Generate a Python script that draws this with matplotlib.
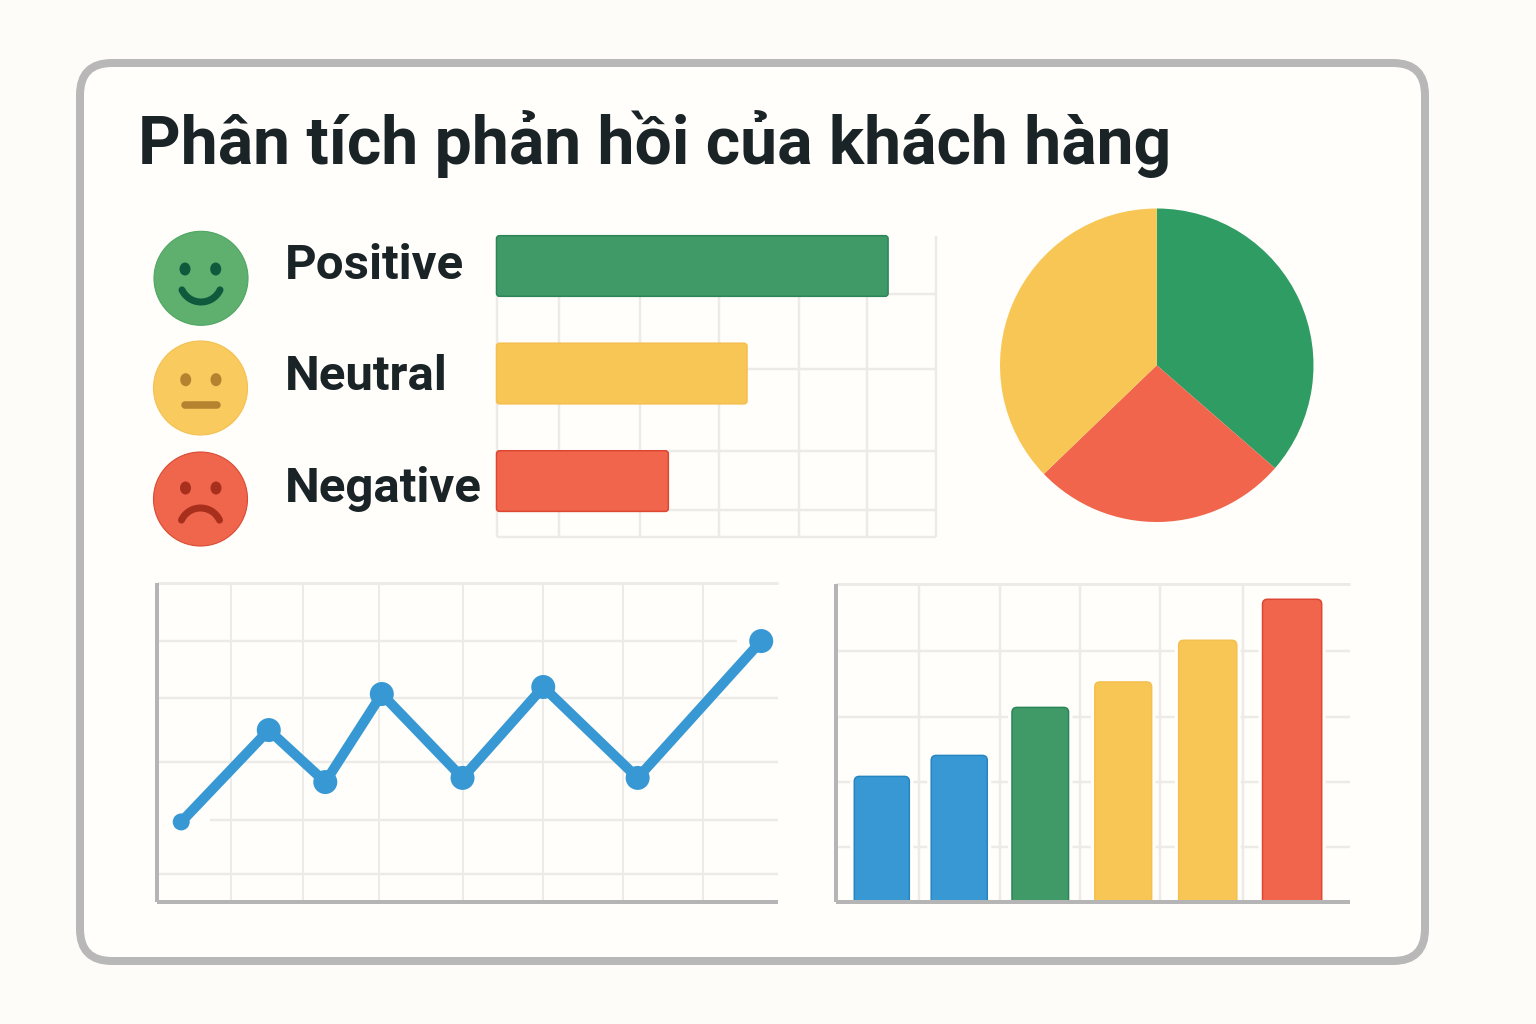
"""Customer feedback dashboard card: faces, bars, pie, trend line and column chart."""

import matplotlib
matplotlib.use("Agg")
import matplotlib.patheffects as pe
import matplotlib.pyplot as plt
from matplotlib.patches import Arc, Circle, Ellipse, FancyBboxPatch

WIDTH, HEIGHT = 1536, 1024
PX = 72 / 100  # points per pixel at dpi=100

TITLE = "Phân tích phản hồi của khách hàng"
SENTIMENTS = ["Positive", "Neutral", "Negative"]

# horizontal bars, share of a 0-100 axis
sentiment_values = [89.1, 57.0, 39.1]
# pie shares
pie_green, pie_red, pie_yellow = 36.4, 26.4, 37.2
pie_values = [pie_green, pie_red, pie_yellow]
# trend line
line_x = [3.9, 18.0, 27.1, 36.2, 49.2, 62.2, 77.4, 97.3]
line_y = [25.1, 53.9, 37.6, 65.2, 38.9, 67.4, 38.9, 81.8]
# column chart
column_values = [39.5, 46.1, 61.2, 69.2, 82.3, 95.2]

BG = "#fdfcf8"
CARD = "#fffefb"
CARD_EDGE = "#b9b8b8"
INK = "#1a2326"
GRID = "#ecebe8"
AXIS = "#b6b5b5"
GREEN = "#3f9a68"
GREEN_EDGE = "#2c8558"
PIE_GREEN = "#2f9c63"
YELLOW = "#f8c655"
YELLOW_EDGE = "#f4bf4f"
RED = "#f1654c"
RED_EDGE = "#dc4632"
BLUE = "#3798d4"
BLUE_EDGE = "#2585c0"

plt.rcParams["font.family"] = ["Roboto", "Inter", "DejaVu Sans"]


def px_axes(left, top, right, bottom):
    ax = fig.add_axes([left / WIDTH, 1 - bottom / HEIGHT,
                       (right - left) / WIDTH, (bottom - top) / HEIGHT])
    ax.set_facecolor("none")
    ax.tick_params(length=0, labelbottom=False, labelleft=False)
    return ax


def style_spines(ax, left, bottom, top, right, lw_left=3, lw_bottom=3):
    for name, color, lw in [("left", left, lw_left), ("bottom", bottom, lw_bottom),
                            ("top", top, 3), ("right", right, 2.5)]:
        if color is None:
            ax.spines[name].set_visible(False)
        else:
            ax.spines[name].set_color(color)
            ax.spines[name].set_linewidth(lw * PX)
            ax.spines[name].set_capstyle("butt")
    ax.spines["bottom"].set_zorder(5)
    ax.spines["left"].set_zorder(5)


def rounded_bar(ax, x, y, w, h, color, edge, radius_px, scale_x, scale_y, clip=True, halo=0):
    # rounding is given in x units, mutation_aspect keeps the corners circular on screen
    patch = FancyBboxPatch(
        (x, y), w, h,
        boxstyle=f"round,pad=0,rounding_size={radius_px / scale_x}",
        mutation_aspect=scale_x / scale_y,
        facecolor=color, edgecolor=edge, linewidth=1.5 * PX, zorder=3, clip_on=clip)
    if halo:
        # the grid stops a few pixels short of each column
        patch.set_path_effects([pe.withStroke(linewidth=halo * PX, foreground=CARD)])
    ax.add_patch(patch)


fig = plt.figure(figsize=(WIDTH / 100, HEIGHT / 100), dpi=100, facecolor=BG)

# page-level layer in pixel coordinates
bg = fig.add_axes([0, 0, 1, 1])
bg.set_xlim(0, WIDTH)
bg.set_ylim(HEIGHT, 0)
bg.axis("off")
bg.add_patch(FancyBboxPatch((80, 63), 1345, 898,
                            boxstyle="round,pad=0,rounding_size=32",
                            facecolor=CARD, edgecolor=CARD_EDGE, linewidth=8 * PX))
bg.text(138, 164, TITLE, fontsize=47.5, fontweight="bold", color=INK,
        va="baseline", ha="left")

label_baselines = [279, 390, 501.5]
for label, base in zip(SENTIMENTS, label_baselines):
    bg.text(284.5, base, label, fontsize=35.5, fontweight="bold", color=INK,
            va="baseline", ha="left")

# faces
bg.add_patch(Circle((201, 278.3), 47, facecolor="#5fb06f", edgecolor="#4fa663", linewidth=0.8))
bg.add_patch(Circle((200.5, 388), 47, facecolor="#f9ca5e", edgecolor="#f4c052", linewidth=0.8))
bg.add_patch(Circle((200.5, 499), 47, facecolor="#f0664d", edgecolor="#d94a34", linewidth=0.8))

for cx, cy, color in [(185, 269, "#0f5a3c"), (215.7, 269, "#0f5a3c"),
                      (185.7, 379.7, "#b5822f"), (216, 379.7, "#b5822f"),
                      (185.5, 488, "#a82f1c"), (216, 488, "#a82f1c")]:
    bg.add_patch(Ellipse((cx, cy), 11, 13, facecolor=color, edgecolor="none"))

bg.add_patch(Arc((201, 281), 42, 42, theta1=25, theta2=155, color="#0f5a3c",
                 linewidth=7 * PX, capstyle="round"))
bg.plot([185, 217], [405.3, 405.3], color="#b5822f", linewidth=7.5 * PX,
        solid_capstyle="round")
bg.add_patch(Arc((200.5, 529), 42, 42, theta1=205, theta2=335, color="#a82f1c",
                 linewidth=7 * PX, capstyle="round"))

# horizontal sentiment bars
ax = px_axes(496.5, 236, 936, 537)
ax.set_xlim(0, 100)
ax.set_ylim(2.52, -0.279)
ax.set_xticks([14.3, 32.7, 50.7, 68.9, 84.3])
ax.set_yticks([0.26, 0.958, 1.72, 2.27])
ax.grid(True, color=GRID, linewidth=2.5 * PX)
ax.set_axisbelow(True)
style_spines(ax, GRID, GRID, None, GRID, lw_left=2.5, lw_bottom=2.5)
ax.spines["left"].set_zorder(2)
sx, sy = 439.5 / 100, 301 / 2.799
bar_colors = [(GREEN, GREEN_EDGE), (YELLOW, YELLOW_EDGE), (RED, RED_EDGE)]
for i, (value, (color, edge)) in enumerate(zip(sentiment_values, bar_colors)):
    rounded_bar(ax, 0, i - 0.282, value, 0.564, color, edge, 3, sx, sy, clip=False)

# pie
ax = px_axes(1000, 208, 1313.5, 522.5)
ax.pie(pie_values, colors=[PIE_GREEN, RED, YELLOW], startangle=90, counterclock=False,
       radius=1, wedgeprops={"linewidth": 0})
ax.set_xlim(-1, 1)
ax.set_ylim(-1, 1)

# trend line
ax = px_axes(157, 583, 778, 902)
ax.set_xlim(0, 100)
ax.set_ylim(0, 100)
ax.set_xticks([11.9, 23.5, 35.7, 49.2, 62.2, 75.0, 87.9])
ax.grid(True, axis="x", color=GRID, linewidth=2 * PX)
ax.set_axisbelow(True)
for level, start, stop in [(81.8, 0, 93.4), (63.9, 0, 100), (43.9, 0, 100),
                           (25.7, 8.5, 100), (8.8, 0, 100)]:
    ax.hlines(level, start, stop, color=GRID, linewidth=2.5 * PX, zorder=1)
style_spines(ax, AXIS, AXIS, GRID, None, lw_left=4, lw_bottom=4)
ax.plot(line_x, line_y, color=BLUE, linewidth=10 * PX, zorder=3,
        solid_capstyle="round", solid_joinstyle="round", clip_on=False)
marker_sizes = [(17 * PX) ** 2] + [(24 * PX) ** 2] * (len(line_x) - 1)
ax.scatter(line_x, line_y, s=marker_sizes, color=BLUE, edgecolors="none", zorder=4,
           clip_on=False)

# column chart
ax = px_axes(835.5, 584, 1350, 902)
ax.set_xlim(0, 100)
ax.set_ylim(0, 100)
ax.set_xticks([16.3, 31.9, 47.5, 63.0, 79.2])
ax.set_yticks([78.9, 58.2, 37.7, 17.3])
ax.grid(True, color=GRID, linewidth=2.5 * PX)
ax.set_axisbelow(True)
style_spines(ax, AXIS, AXIS, GRID, None, lw_left=4, lw_bottom=4)
column_lefts = [3.65, 18.6, 34.3, 50.4, 66.7, 83.0]
column_widths = [10.7, 10.9, 11.0, 11.05, 11.3, 11.5]
column_colors = [(BLUE, BLUE_EDGE), (BLUE, BLUE_EDGE), (GREEN, GREEN_EDGE),
                 (YELLOW, YELLOW_EDGE), (YELLOW, YELLOW_EDGE), (RED, RED_EDGE)]
sx, sy = 514.5 / 100, 318 / 100
for left, w, value, (color, edge) in zip(column_lefts, column_widths, column_values,
                                         column_colors):
    # start below the axis so only the top corners read as rounded
    rounded_bar(ax, left, -3, w, value + 3, color, edge, 5, sx, sy, halo=8)

fig.savefig("out.png", dpi=100, facecolor=BG)
